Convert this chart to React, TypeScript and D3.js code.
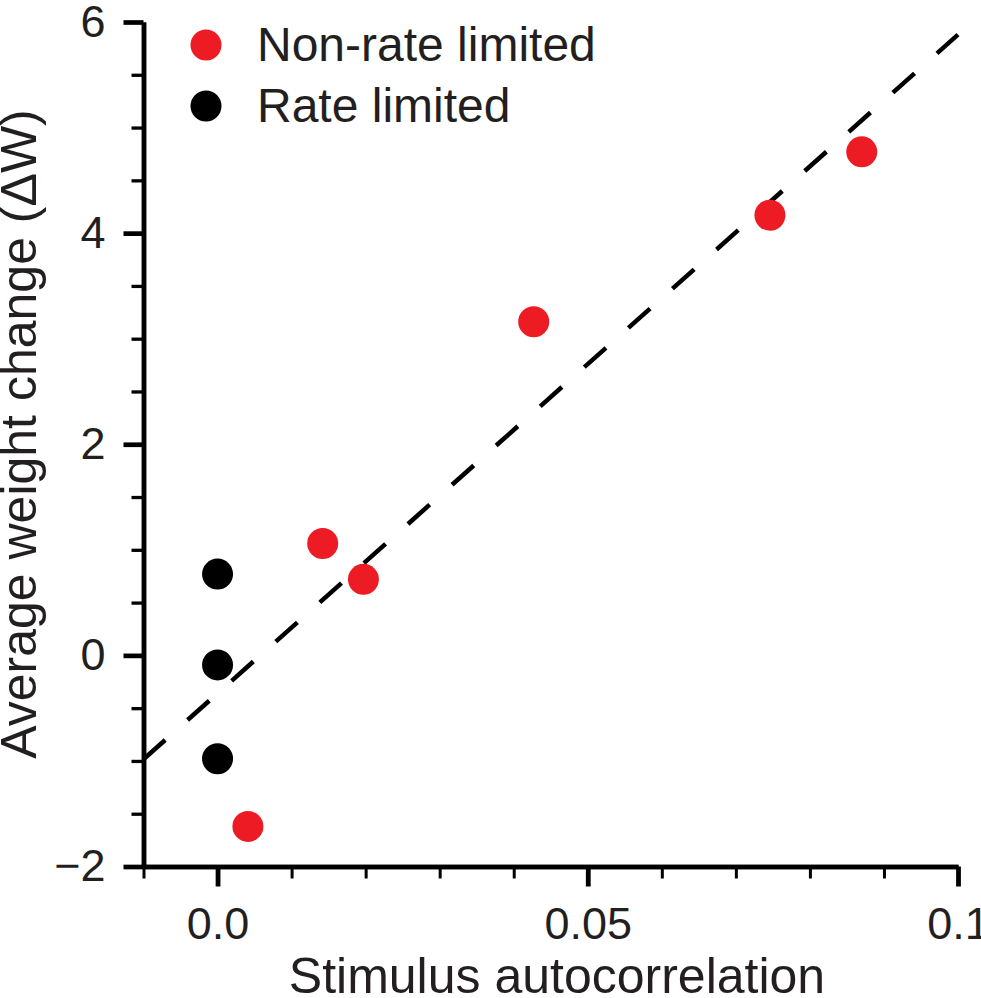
import React, { useEffect, useRef } from 'react';
import * as d3 from 'd3';

// autocorrelation vs. average weight change
const nonRateX = [0.0041, 0.0142, 0.0197, 0.0427, 0.0746, 0.087];
const nonRateY = [-1.62, 1.06, 0.72, 3.16, 4.17, 4.77];
const rateX = [0, 0, 0];
const rateY = [0.77, -0.09, -0.98];

// fitted line (slope, intercept) drawn across the x domain
const fitSlope = 62.4;
const fitIntercept = -0.36;

const xMajorTicks = [0, 0.05, 0.1];
const xMinorTicks = [-0.01, 0.01, 0.02, 0.03, 0.04, 0.06, 0.07, 0.08, 0.09];
const yMajorTicks = [-2, 0, 2, 4, 6];
const yMinorTicks = [-1.5, -1, -0.5, 0.5, 1, 1.5, 2.5, 3, 3.5, 4.5, 5, 5.5];

const legendLabels = ['Non-rate limited', 'Rate limited'];
const RED = '#ed1c24';
const INK = '#000000';
const TEXT = '#231f20';
const FONT = '"Liberation Sans", Arial, Helvetica, sans-serif';

const App: React.FC = () => {
    const svgRef = useRef<SVGSVGElement>(null);

    useEffect(() => {
        if (!svgRef.current) return;
        const svg = d3.select(svgRef.current);
        svg.selectAll('*').remove();

        const x = d3.scaleLinear().domain([-0.01, 0.1]).range([143.5, 958]);
        const y = d3.scaleLinear().domain([-2, 6]).range([866.5, 22]);

        const styleAxis = (g: d3.Selection<SVGGElement, unknown, null, undefined>, tickWidth: number) => {
            g.select('.domain').attr('stroke', INK).attr('stroke-width', 4.5);
            g.selectAll('.tick line').attr('stroke', INK).attr('stroke-width', tickWidth);
            g.selectAll('.tick text')
                .attr('fill', TEXT)
                .style('font-family', FONT)
                .style('font-size', '45px');
        };

        // x axis (minor first so the domain line sits on top)
        const xMinorG = svg.append('g').attr('transform', `translate(0, ${y(-2)})`);
        xMinorG.call(d3.axisBottom(x).tickValues(xMinorTicks).tickSize(12).tickSizeOuter(0).tickFormat(() => ''));
        styleAxis(xMinorG, 3);
        const xAxisG = svg.append('g').attr('transform', `translate(0, ${y(-2)})`);
        xAxisG.call(
            d3.axisBottom(x)
                .tickValues(xMajorTicks)
                .tickSize(20)
                .tickSizeOuter(0)
                .tickPadding(21)
                .tickFormat((d) => (+d === 0 ? '0.0' : String(+d)))
        );
        styleAxis(xAxisG, 4.8);

        // y axis
        const yMinorG = svg.append('g').attr('transform', `translate(${x(-0.01)}, 0)`);
        yMinorG.call(d3.axisLeft(y).tickValues(yMinorTicks).tickSize(12).tickSizeOuter(0).tickFormat(() => ''));
        styleAxis(yMinorG, 3.3);
        const yAxisG = svg.append('g').attr('transform', `translate(${x(-0.01)}, 0)`);
        yAxisG.call(
            d3.axisLeft(y)
                .tickValues(yMajorTicks)
                .tickSize(20)
                .tickSizeOuter(0)
                .tickPadding(18)
                .tickFormat((d) => (+d < 0 ? `\u2212${Math.abs(+d)}` : String(d)))
        );
        styleAxis(yAxisG, 4.7);

        // axis labels
        svg.append('text')
            .attr('x', 557)
            .attr('y', 993)
            .attr('text-anchor', 'middle')
            .attr('fill', TEXT)
            .style('font-family', FONT)
            .style('font-size', '50px')
            .text('Stimulus autocorrelation');

        svg.append('text')
            .attr('transform', 'translate(36, 434) rotate(-90)')
            .attr('text-anchor', 'middle')
            .attr('fill', TEXT)
            .style('font-family', FONT)
            .style('font-size', '50px')
            .text('Average weight change (\u0394W)');

        // fit line
        const [x0, x1] = x.domain();
        svg.append('line')
            .attr('x1', x(x0))
            .attr('y1', y(fitSlope * x0 + fitIntercept))
            .attr('x2', x(x1))
            .attr('y2', y(fitSlope * x1 + fitIntercept))
            .attr('stroke', INK)
            .attr('stroke-width', 4.5)
            .attr('stroke-dasharray', '29 30');

        // points
        svg.append('g')
            .selectAll('circle')
            .data(nonRateX.map((v, i) => [v, nonRateY[i]]))
            .enter()
            .append('circle')
            .attr('cx', (d) => x(d[0]))
            .attr('cy', (d) => y(d[1]))
            .attr('r', 15.5)
            .attr('fill', RED);

        svg.append('g')
            .selectAll('circle')
            .data(rateX.map((v, i) => [v, rateY[i]]))
            .enter()
            .append('circle')
            .attr('cx', (d) => x(d[0]))
            .attr('cy', (d) => y(d[1]))
            .attr('r', 15.5)
            .attr('fill', INK);

        // legend
        const legend = svg.append('g');
        legendLabels.forEach((label, i) => {
            const cy = 45 + i * 61;
            legend.append('circle').attr('cx', 206).attr('cy', cy).attr('r', 15.5).attr('fill', i === 0 ? RED : INK);
            legend.append('text')
                .attr('x', 257)
                .attr('y', cy + 16)
                .attr('fill', TEXT)
                .style('font-family', FONT)
                .style('font-size', '48px')
                .text(label);
        });
    }, []);

    return (
        <svg
            ref={svgRef}
            width={981}
            height={998}
            style={{ position: 'absolute', left: 0, top: 0, background: '#fff' }}
        />
    );
};

export default App;
